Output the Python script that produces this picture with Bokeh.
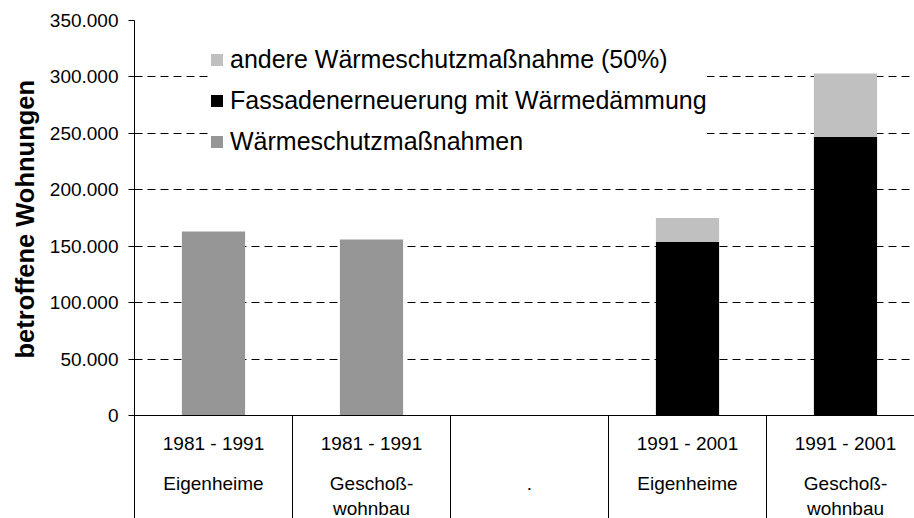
from bokeh.plotting import figure
from bokeh.models import (Range1d, FixedTicker, Legend, LegendItem, Span, Title,
                          ColumnDataSource)
from bokeh.core.properties import value
from bokeh.embed import file_html
from bokeh.resources import INLINE

# ---- data ----
periods = ["1981 - 1991", "1981 - 1991", "", "1991 - 2001", "1991 - 2001"]
types_line1 = ["Eigenheime", "Geschoß-", ".", "Eigenheime", "Geschoß-"]
types_line2 = ["", "wohnbau", "", "", "wohnbau"]
waermeschutz = [163000, 156000, 0, 0, 0]
fassade = [0, 0, 0, 154000, 247000]
andere = [0, 0, 0, 21000, 56000]
series_names = ["Wärmeschutzmaßnahmen", "Fassadenerneuerung mit Wärmedämmung",
                "andere Wärmeschutzmaßnahme (50%)"]
series_colors = ["#969696", "#000000", "#C0C0C0"]
y_ticks = [0, 50000, 100000, 150000, 200000, 250000, 300000, 350000]
y_tick_labels = ["0", "50.000", "100.000", "150.000", "200.000", "250.000",
                 "300.000", "350.000"]
y_title = "betroffene Wohnungen"

# ---- layout constants (pixels) ----
FIG_W, FIG_H = 914, 518
BORDER_L, BORDER_T = 134, 20
FRAME_W = FIG_W - BORDER_L
FRAME_H = FIG_H - BORDER_T
CAT_PX = 158.0
ZERO_PX = 395.0          # px from frame top to y=0
Y_MAX = 350000
units_per_px = Y_MAX / ZERO_PX
y_start = -(FRAME_H - ZERO_PX) * units_per_px

def y_at(px_from_frame_top):
    return Y_MAX - px_from_frame_top * units_per_px

n = len(periods)
xs = [i + 0.5 for i in range(n)]

p = figure(width=FIG_W, height=FIG_H, output_backend="svg", toolbar_location=None,
           x_range=Range1d(0, FRAME_W / CAT_PX), y_range=Range1d(y_start, Y_MAX),
           x_axis_location=None, min_border_left=BORDER_L, min_border_right=0,
           min_border_top=BORDER_T, min_border_bottom=0)
p.outline_line_color = None
p.background_fill_color = "white"
p.xgrid.visible = False

src = ColumnDataSource(dict(x=xs, w=waermeschutz, f=fassade, a=andere))
rs = p.vbar_stack(["w", "f", "a"], x="x", width=0.4, source=src,
                  color=series_colors, line_color=None)

# y axis
ax = p.yaxis[0]
ax.ticker = FixedTicker(ticks=y_ticks)
ax.major_label_overrides = {t: l for t, l in zip(y_ticks, y_tick_labels)}
ax.major_label_text_font = "Liberation Sans"
ax.major_label_text_font_size = "19px"
ax.major_label_text_color = "#000000"
ax.axis_line_color = "#000000"
ax.major_tick_line_color = "#000000"
ax.major_tick_out = 6
ax.major_tick_in = 0
ax.minor_tick_line_color = None
ax.major_label_standoff = 10

p.ygrid.ticker = FixedTicker(ticks=y_ticks[1:])
p.ygrid.grid_line_color = "#000000"
p.ygrid.grid_line_dash = "8 5"
p.ygrid.grid_line_width = 1

# axis title
t = Title(text=y_title, align="left", offset=160, text_font="Liberation Sans",
          text_font_size="25.5px", text_font_style="bold", text_color="#000000",
          standoff=16)
p.add_layout(t, "left")

# zero line and category separators
p.add_layout(Span(location=0, dimension="width", line_color="#000000", line_width=1))
p.segment(x0=list(range(1, n)), x1=list(range(1, n)), y0=0, y1=y_start,
          line_color="#000000", line_width=1)

# category labels
lab_kw = dict(text_font=value("Liberation Sans"), text_font_size="19px",
              text_color="#000000", text_align="center", text_baseline="middle")
p.text(x=xs, y=y_at(423), text=periods, **lab_kw)
p.text(x=xs, y=y_at(463), text=types_line1, **lab_kw)
p.text(x=xs, y=y_at(488), text=types_line2, **lab_kw)

# legend
items = [LegendItem(label=series_names[i], renderers=[rs[i]]) for i in (2, 1, 0)]
leg = Legend(items=items, location=(75, 362), padding=20, spacing=12,
             glyph_width=15, glyph_height=15, label_height=28, label_standoff=6,
             label_text_font="Liberation Sans", label_text_font_size="25px",
             label_text_color="#000000", border_line_color=None,
             background_fill_color="white", background_fill_alpha=1.0,
             margin=0)
p.add_layout(leg, "center")

open("out.html", "w").write(file_html(p, INLINE))
